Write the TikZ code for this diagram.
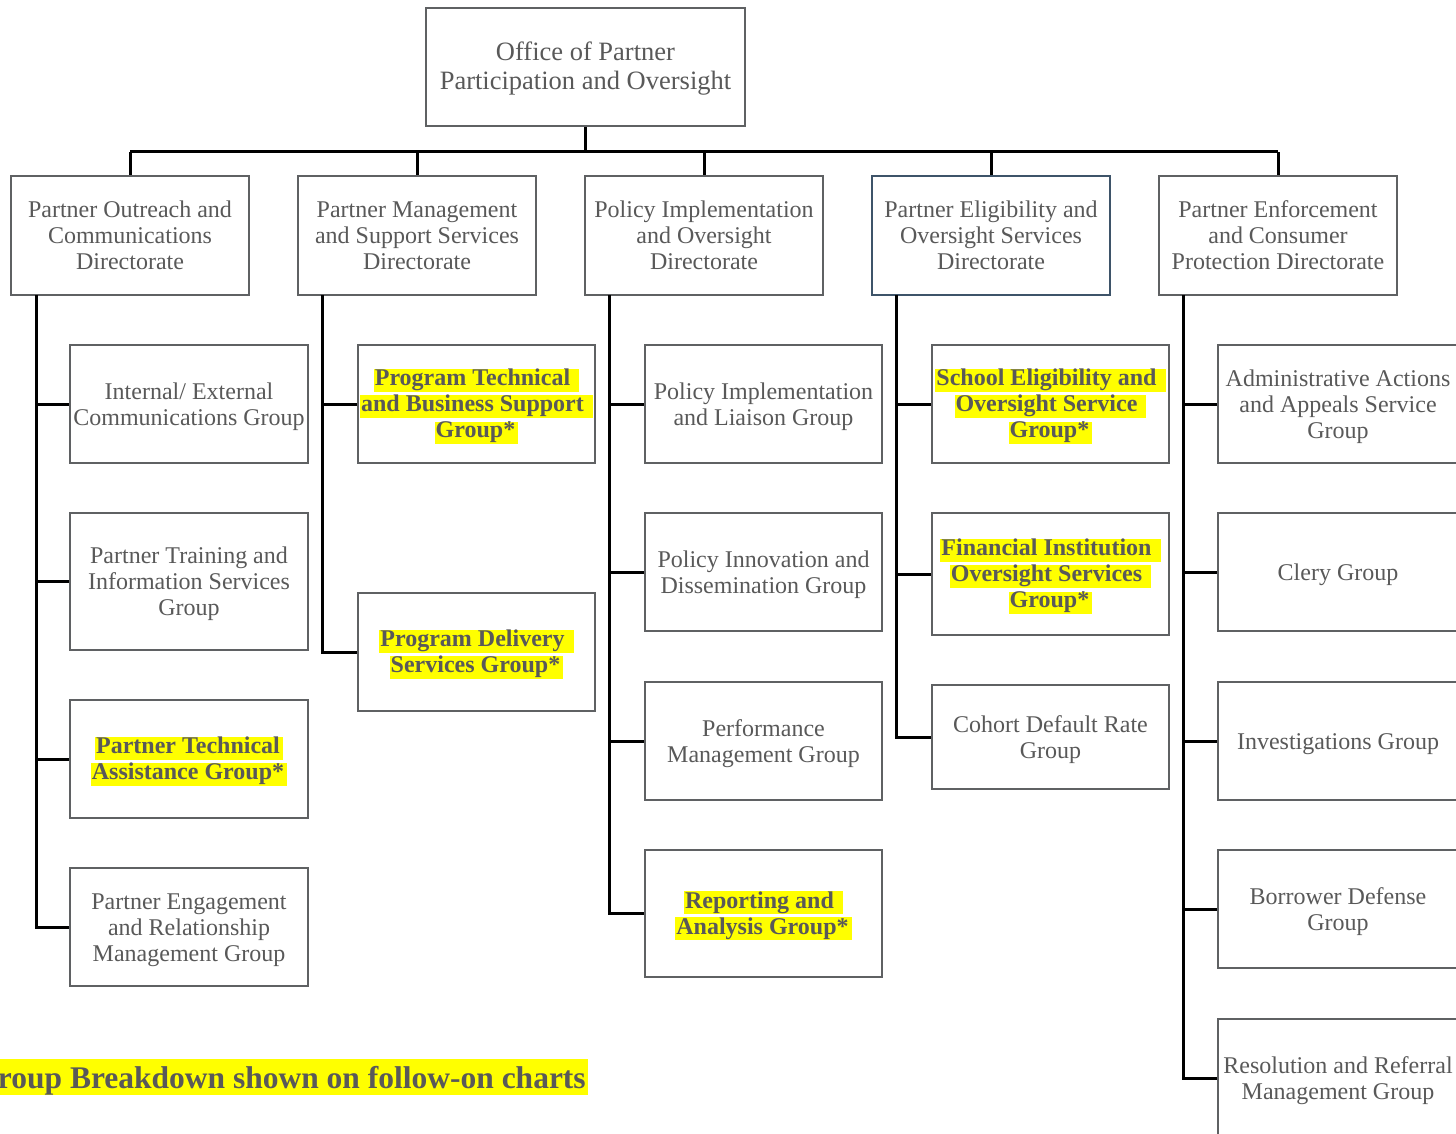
\documentclass[tikz,border=0pt]{standalone}
\usepackage{fontspec}
\setmainfont{Liberation Serif}
\usepackage{xcolor}
\definecolor{txtgray}{HTML}{595959}
\definecolor{boxgray}{HTML}{5F6163}
\definecolor{boxblue}{HTML}{3E5469}
\definecolor{hlyellow}{HTML}{FFFF00}
\setlength{\fboxsep}{0pt}
\newcommand{\hlt}[1]{\colorbox{hlyellow}{\rule[-6.4pt]{0pt}{19.5pt}\kern1pt#1\kern3pt}}
\newcommand{\tr}{\rule{0pt}{21.5pt}}
\tikzset{
  box/.style={draw=boxgray, line width=2.5pt, fill=white, inner sep=0pt, align=center,
    text=txtgray, font=\fontsize{24}{26}\selectfont},
  hbox/.style={box, font=\bfseries\fontsize{24}{26}\selectfont},
  conn/.style={draw=black, line width=3pt}
}
\begin{document}
\begin{tikzpicture}[x=1pt,y=-1pt]
\useasboundingbox (0,0) rectangle (1456,1134);
% top
\node[box, minimum width=319pt, minimum height=118pt, font=\fontsize{26.5}{29}\selectfont] (top) at (585.5,67) {\rule{0pt}{22.5pt}Office of Partner\\Participation and Oversight};
% directorates
\node[box, minimum width=238pt, minimum height=119pt] (d1) at (130,235.5) {Partner Outreach and\\Communications\\Directorate};
\node[box, minimum width=238pt, minimum height=119pt] (d2) at (417,235.5) {Partner Management\\and Support Services\\Directorate};
\node[box, minimum width=238pt, minimum height=119pt] (d3) at (704,235.5) {Policy Implementation\\and Oversight\\Directorate};
\node[box, draw=boxblue, minimum width=238pt, minimum height=119pt] (d4) at (991,235.5) {Partner Eligibility and\\Oversight Services\\Directorate};
\node[box, minimum width=238pt, minimum height=119pt] (d5) at (1278,235.5) {Partner Enforcement\\and Consumer\\Protection Directorate};
% column 1
\node[box, minimum width=238pt, minimum height=118pt] (c11) at (189,404) {\tr Internal/ External\\Communications Group};
\node[box, minimum width=238pt, minimum height=137pt] (c12) at (189,581.5) {\tr Partner Training and\\Information Services\\Group};
\node[hbox, minimum width=238pt, minimum height=118pt] (c13) at (189,759) {\tr\hlt{Partner Technical}\\\hlt{Assistance Group*}};
\node[box, minimum width=238pt, minimum height=118pt] (c14) at (189,927) {\tr Partner Engagement\\and Relationship\\Management Group};
% column 2
\node[hbox, minimum width=237pt, minimum height=118pt] (c21) at (476.5,404) {\tr\hlt{Program Technical }\\\hlt{and Business Support }\\\hlt{Group*}};
\node[hbox, minimum width=237pt, minimum height=118pt] (c22) at (476.5,652) {\tr\hlt{Program Delivery }\\\hlt{Services Group*}};
% column 3
\node[box, minimum width=237pt, minimum height=118pt] (c31) at (763.5,404) {\tr Policy Implementation\\and Liaison Group};
\node[box, minimum width=237pt, minimum height=118pt] (c32) at (763.5,572) {\tr Policy Innovation and\\Dissemination Group};
\node[box, minimum width=237pt, minimum height=118pt] (c33) at (763.5,741) {\tr Performance\\Management Group};
\node[hbox, minimum width=237pt, minimum height=127pt] (c34) at (763.5,913.5) {\tr\hlt{Reporting and }\\\hlt{Analysis Group*}};
% column 4
\node[hbox, minimum width=237pt, minimum height=118pt] (c41) at (1050.5,404) {\tr\hlt{School Eligibility and }\\\hlt{Oversight Service }\\\hlt{Group*}};
\node[hbox, minimum width=237pt, minimum height=122pt] (c42) at (1050.5,574) {\tr\hlt{Financial Institution }\\\hlt{Oversight Services }\\\hlt{Group*}};
\node[box, minimum width=237pt, minimum height=104pt] (c43) at (1050.5,737) {\tr Cohort Default Rate\\Group};
% column 5
\node[box, minimum width=240pt, minimum height=118pt] (c51) at (1338,404) {\tr Administrative Actions\\and Appeals Service\\Group};
\node[box, minimum width=240pt, minimum height=118pt] (c52) at (1338,572) {\tr Clery Group};
\node[box, minimum width=240pt, minimum height=118pt] (c53) at (1338,741) {\tr Investigations Group};
\node[box, minimum width=240pt, minimum height=118pt] (c54) at (1338,909) {\tr Borrower Defense\\Group};
\node[box, minimum width=240pt, minimum height=118pt] (c55) at (1338,1078) {\tr Resolution and Referral\\Management Group};
% bus
\coordinate (busL) at (130,152);
\coordinate (busR) at (1278,152);
\draw[conn] (top.south) -- (top.south |- busL);
\draw[conn] (busL) -- (busR);
\foreach \d in {d1,d2,d3,d4,d5}{\draw[conn] (\d.north) -- (\d.north |- busL);}
% spines
\coordinate (s1) at (36,295);
\coordinate (s2) at (322,295);
\coordinate (s3) at (609,295);
\coordinate (s4) at (896,295);
\coordinate (s5) at (1183,295);
\draw[conn] (s1) |- (c14.west);
\foreach \c in {c11,c12,c13}{\draw[conn] (\c.west) -- (\c.west -| s1);}
\draw[conn] (s2) |- (c22.west);
\draw[conn] (c21.west) -- (c21.west -| s2);
\draw[conn] (s3) |- (c34.west);
\foreach \c in {c31,c32,c33}{\draw[conn] (\c.west) -- (\c.west -| s3);}
\draw[conn] (s4) |- (c43.west);
\foreach \c in {c41,c42}{\draw[conn] (\c.west) -- (\c.west -| s4);}
\draw[conn] (s5) |- (c55.west);
\foreach \c in {c51,c52,c53,c54}{\draw[conn] (\c.west) -- (\c.west -| s5);}
% footnote
\fill[hlyellow] (0,1059) rectangle (588,1095);
\node[anchor=base east, inner sep=0pt, text=txtgray, font=\bfseries\fontsize{31.5}{34}\selectfont] (note) at (586,1088) {roup Breakdown shown on follow-on charts};
\end{tikzpicture}
\end{document}
